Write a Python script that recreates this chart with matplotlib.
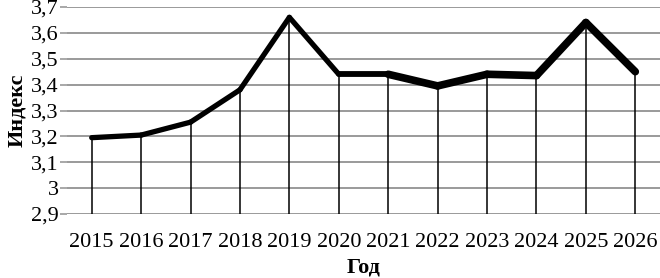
import matplotlib
matplotlib.use("Agg")
import matplotlib.pyplot as plt
import numpy as np

years = ["2015", "2016", "2017", "2018", "2019", "2020", "2021", "2022", "2023", "2024", "2025", "2026"]
index_values = [3.195, 3.205, 3.255, 3.38, 3.66, 3.44, 3.44, 3.395, 3.44, 3.435, 3.64, 3.45]
y_ticks = [2.9, 3.0, 3.1, 3.2, 3.3, 3.4, 3.5, 3.6, 3.7]
y_tick_labels = ["2,9", "3", "3,1", "3,2", "3,3", "3,4", "3,5", "3,6", "3,7"]

plt.rcParams['font.family'] = ['Liberation Serif', 'DejaVu Serif']

fig = plt.figure(figsize=(6.6, 2.78), dpi=100)
ax = fig.add_axes([67/660, 1 - 214/278, (660-67)/660, (214-7)/278])

x = np.arange(len(years))
ax.set_xlim(-0.5, len(years) - 0.5)
ax.set_ylim(2.9, 3.7)

for yt in y_ticks:
    ax.axhline(yt, color="#9a9a9a", lw=1.4, zorder=1)

ax.vlines(x, 2.9, index_values, colors="black", lw=1.1, zorder=2)

seg_w = [3.8, 3.8, 3.8, 3.8, 3.8, 4.2, 5.5, 5.5, 5.5, 5.5, 5.5]
for i in range(len(x) - 1):
    ax.plot(x[i:i+2], index_values[i:i+2], color="black", lw=seg_w[i],
            solid_capstyle="round", solid_joinstyle="round", zorder=3)

for s in ax.spines.values():
    s.set_visible(False)

ax.set_yticks(y_ticks)
ax.set_yticklabels(y_tick_labels)
ax.set_xticks(x)
ax.set_xticklabels(years)
ax.tick_params(axis="y", length=5, width=1.2, color="#9a9a9a", labelsize=16, pad=1)
ax.tick_params(axis="x", length=0, labelsize=16, pad=14)

ax.set_ylabel("Индекс", fontsize=16, fontweight="bold", labelpad=3)
ax.set_xlabel("Год", fontsize=16, fontweight="bold", labelpad=4)

fig.savefig("out.png", dpi=100)
